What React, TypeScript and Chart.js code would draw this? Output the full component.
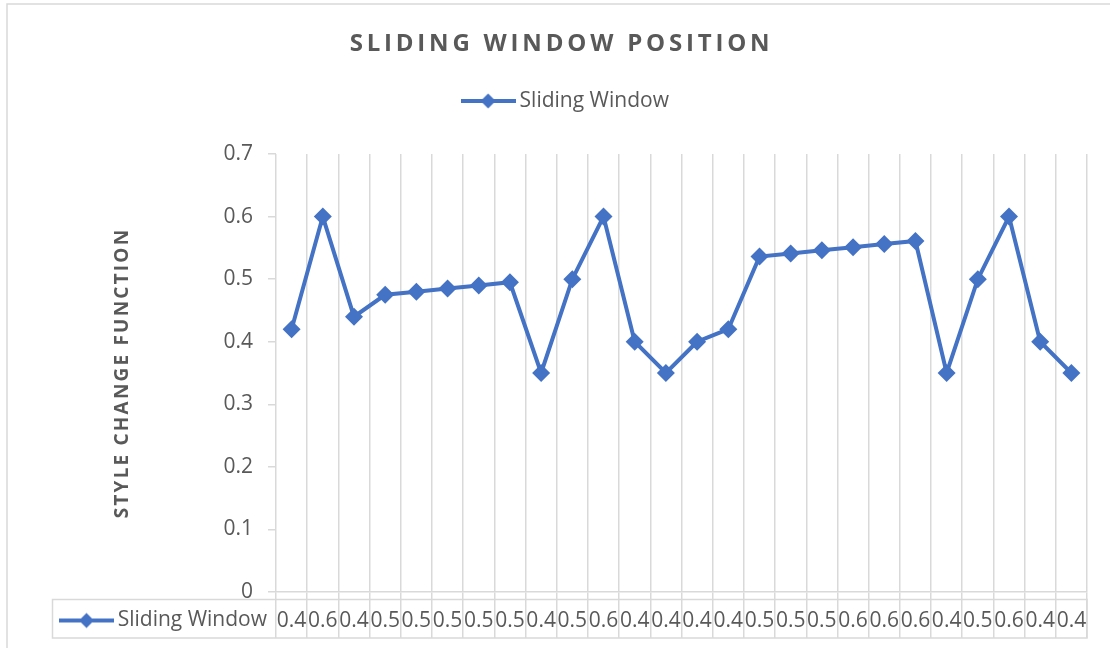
import React, { useEffect, useRef } from 'react';
import { Chart, registerables } from 'chart.js';

Chart.register(...registerables);

// ---- data ----
const categories = ['1', '2', '3', '4', '5', '6', '7', '8', '9', '10', '11', '12', '13', '14', '15', '16', '17', '18', '19', '20', '21', '22', '23', '24', '25', '26'];
const seriesName = 'Sliding Window';
const slidingWindow = [0.42, 0.6, 0.44, 0.475, 0.48, 0.485, 0.49, 0.495, 0.35, 0.5, 0.6, 0.4, 0.35, 0.4, 0.42, 0.536, 0.541, 0.546, 0.551, 0.556, 0.561, 0.35, 0.5, 0.6, 0.4, 0.35];
const tableLabels = ['0.4', '0.6', '0.4', '0.5', '0.5', '0.5', '0.5', '0.5', '0.4', '0.5', '0.6', '0.4', '0.4', '0.4', '0.4', '0.5', '0.5', '0.5', '0.6', '0.6', '0.6', '0.4', '0.5', '0.6', '0.4', '0.4'];
const yTickLabels = ['0', '0.1', '0.2', '0.3', '0.4', '0.5', '0.6', '0.7'];
const chartTitle = 'SLIDING WINDOW POSITION';
const yAxisTitle = 'STYLE CHANGE FUNCTION';

// ---- style ----
const BLUE = '#4472C4';
const GRID = '#d9d9d9';
const TEXT = '#595959';
const FONT = '"Open Sans", sans-serif';

export default function App() {
  const ref = useRef<HTMLCanvasElement>(null);

  useEffect(() => {
    document.body.style.margin = '0';
    const canvas = ref.current!;

    // legend marker: line with a diamond in the middle
    const marker = document.createElement('canvas');
    marker.width = 55;
    marker.height = 18;
    const m = marker.getContext('2d')!;
    m.strokeStyle = BLUE;
    m.lineWidth = 4;
    m.beginPath();
    m.moveTo(0, 9);
    m.lineTo(55, 9);
    m.stroke();
    m.fillStyle = BLUE;
    m.beginPath();
    m.moveTo(27.5, 1.5);
    m.lineTo(35, 9);
    m.lineTo(27.5, 16.5);
    m.lineTo(20, 9);
    m.closePath();
    m.fill();

    const excelPlugin = {
      id: 'excelStyle',
      beforeDraw(chart: any) {
        const ctx = chart.ctx as CanvasRenderingContext2D;
        // outer frame
        ctx.save();
        ctx.strokeStyle = GRID;
        ctx.lineWidth = 1.5;
        ctx.beginPath();
        ctx.moveTo(7, chart.height);
        ctx.lineTo(7, 4);
        ctx.lineTo(chart.width, 4);
        ctx.stroke();
        ctx.restore();

        const t = chart.titleBlock;
        if (t && !t._wrapped) {
          const orig = t.draw.bind(t);
          t.draw = (...a: any[]) => {
            ctx.save();
            (ctx as any).letterSpacing = '3.8px';
            ctx.translate(18, 0);
            orig(...a);
            ctx.restore();
          };
          t._wrapped = true;
        }
        const lg = chart.legend;
        if (lg && !lg._wrapped) {
          const orig = lg.draw.bind(lg);
          lg.draw = (...a: any[]) => {
            ctx.save();
            ctx.translate(24.5, 0);
            orig(...a);
            ctx.restore();
          };
          lg._wrapped = true;
        }
        const ys = chart.scales.y;
        if (ys && !ys._wrapped) {
          const orig = ys.drawTitle.bind(ys);
          ys.drawTitle = (...a: any[]) => {
            ctx.save();
            (ctx as any).letterSpacing = '2.2px';
            orig(...a);
            ctx.restore();
          };
          ys._wrapped = true;
        }
      },
      afterDraw(chart: any) {
        const ctx = chart.ctx as CanvasRenderingContext2D;
        const area = chart.chartArea;
        const top = area.bottom + 7.5;
        const bottom = area.bottom + 46;
        const mid = area.bottom + 28.5;
        ctx.save();
        ctx.strokeStyle = GRID;
        ctx.lineWidth = 1.5;
        ctx.strokeRect(52.5, top, area.right - 52.5, bottom - top);
        ctx.drawImage(marker, 59, mid - 9);
        ctx.fillStyle = TEXT;
        ctx.font = `21px ${FONT}`;
        ctx.textAlign = 'right';
        ctx.textBaseline = 'middle';
        ctx.fillText(seriesName, area.left - 9, mid);
        ctx.restore();
      },
    };

    const chart = new Chart(canvas, {
      type: 'line',
      data: {
        labels: categories,
        datasets: [
          {
            label: seriesName,
            data: slidingWindow,
            borderColor: BLUE,
            backgroundColor: BLUE,
            borderWidth: 4,
            pointStyle: 'rectRot',
            pointRadius: 9,
            pointBackgroundColor: BLUE,
            pointBorderColor: BLUE,
            pointBorderWidth: 0,
            tension: 0,
            xAxisID: 'x',
            yAxisID: 'y',
          },
        ],
      },
      options: {
        animation: false,
        responsive: false,
        devicePixelRatio: 1,
        events: [],
        layout: { padding: { top: 0, left: 0, right: 23, bottom: 0 } },
        font: { family: FONT },
        plugins: {
          title: {
            display: true,
            text: chartTitle,
            color: TEXT,
            font: { family: FONT, size: 24, weight: 'bold' },
            padding: { top: 30.1, bottom: 21.6 },
          },
          legend: {
            display: true,
            position: 'top',
            labels: {
              usePointStyle: true,
              pointStyle: marker as any,
              pointStyleWidth: 42,
              color: TEXT,
              font: { family: FONT, size: 21 },
              padding: 10,
            },
          },
          tooltip: { enabled: false },
        },
        scales: {
          x: {
            type: 'category',
            position: 'bottom',
            offset: true,
            grid: {
              display: true,
              offset: true,
              color: GRID,
              lineWidth: 1.5,
              drawOnChartArea: true,
              drawTicks: true,
              tickLength: 46,
            },
            border: { display: true, color: GRID, width: 1.5 },
            ticks: {
              autoSkip: false,
              maxRotation: 0,
              minRotation: 0,
              padding: -30,
              color: TEXT,
              font: { family: FONT, size: 21 },
              callback: (_v: any, i: number) => tableLabels[i],
            },
            afterFit: (s: any) => {
              s.height = 56;
            },
          },
          xTop: {
            type: 'category',
            position: 'top',
            offset: true,
            display: true,
            grid: { display: false, drawTicks: false },
            border: { display: false },
            ticks: { display: false },
            afterFit: (s: any) => {
              s.height = 32.5;
            },
          },
          y: {
            type: 'linear',
            position: 'left',
            min: 0,
            max: 0.7,
            ticks: {
              stepSize: 0.1,
              padding: 15,
              color: TEXT,
              font: { family: FONT, size: 21 },
              callback: (v: any, i: number) => yTickLabels[i] ?? String(v),
            },
            grid: {
              display: true,
              drawOnChartArea: false,
              drawTicks: true,
              tickLength: 8,
              color: GRID,
              lineWidth: 1.5,
            },
            border: { display: false },
            title: {
              display: true,
              text: yAxisTitle,
              color: TEXT,
              font: { family: FONT, size: 19, weight: 'bold' },
              padding: { top: 111, bottom: 0 },
            },
            afterFit: (s: any) => {
              s.width = 276;
            },
          },
        },
      } as any,
      plugins: [excelPlugin],
    });

    return () => chart.destroy();
  }, []);

  return (
    <div style={{ width: 1110, height: 648 }}>
      <canvas ref={ref} width={1110} height={648} style={{ display: 'block' }} />
    </div>
  );
}
